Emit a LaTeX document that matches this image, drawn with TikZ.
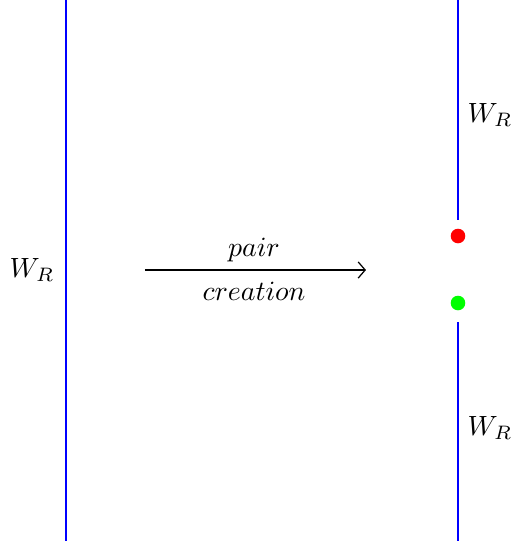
\documentclass[tikz,border=0pt]{standalone}
\usetikzlibrary{arrows.meta}
\begin{document}
\begin{tikzpicture}[x=0.37pt,y=-0.37pt,
  wline/.style={blue,line width=0.4pt},
  dot/.style={circle,fill=#1,inner sep=0pt,minimum size=5.4pt},
  lab/.style={inner sep=0pt,scale=1.03}]
\useasboundingbox (0,0) rectangle (512,543);
\coordinate (lt) at (66,0);
\coordinate (lb) at (66,541);
\draw[wline] (lt) -- (lb);
\coordinate (rt) at (458,0);
\coordinate (rm1) at (458,220);
\coordinate (rm2) at (458,322);
\coordinate (rb) at (458,541);
\draw[wline] (rt) -- (rm1);
\draw[wline] (rm2) -- (rb);
\node[dot=red] (red) at (458,236) {};
\node[dot=green] (green) at (458,303) {};
\node[lab] (wl) at (32,270) {$W_R$};
\node[lab] (wrt) at (490,115) {$W_R$};
\node[lab] (wrb) at (490,428) {$W_R$};
\coordinate (a1) at (145,270);
\coordinate (a2) at (366,270);
\draw[-{Straight Barb[length=2.6pt,width=6pt]},line width=0.45pt] (a1) -- (a2);
\node[lab] (pair) at (254,250) {$pair$};
\node[lab] (creation) at (254,291) {$creation$};
\end{tikzpicture}
\end{document}
